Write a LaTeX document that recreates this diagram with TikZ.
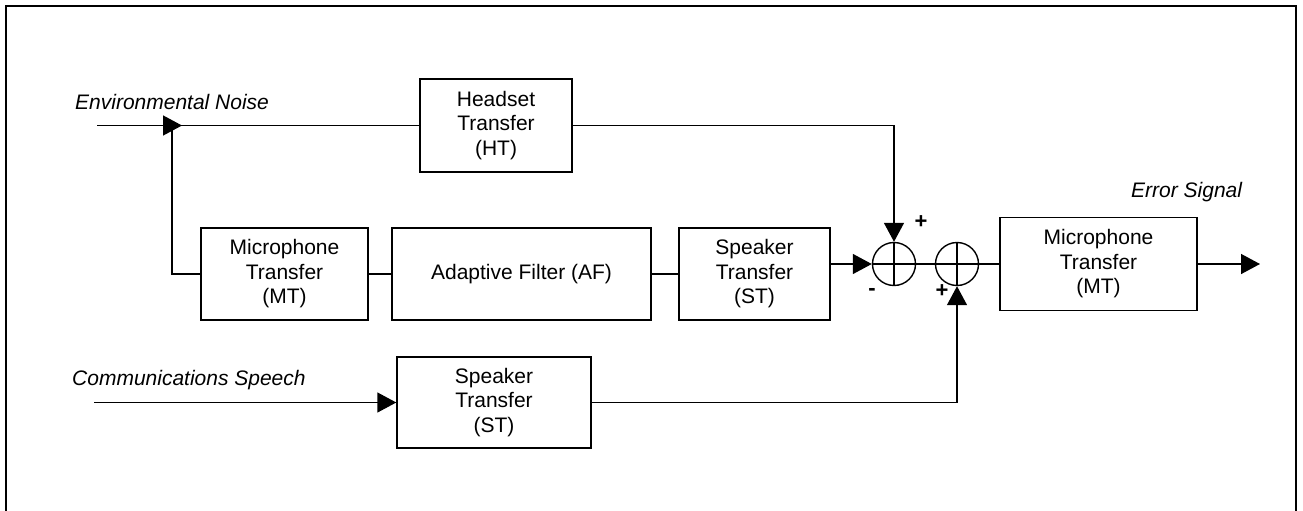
\documentclass[tikz,border=0pt]{standalone}
\usepackage{fontspec}
\setmainfont{Liberation Sans}
\usetikzlibrary{arrows.meta}
\tikzset{
  blk/.style={draw, line width=1.4pt, align=center, inner sep=0pt,
    font=\fontsize{21}{24.5}\selectfont},
  sumc/.style={draw, circle, line width=1.4pt, minimum size=43pt, inner sep=0pt},
  wire/.style={line width=1.4pt},
  arr/.style={wire, -{Triangle[length=19pt,width=20pt]}},
  lbl/.style={font=\fontsize{21}{24}\selectfont\itshape, inner sep=0pt},
  sgn/.style={font=\fontsize{22}{24}\selectfont\bfseries, inner sep=0pt}
}
\begin{document}
\begin{tikzpicture}[x=1pt,y=-1pt]
\useasboundingbox (0,0) rectangle (1303,511);
\draw[line width=1.8pt] (6,515) -- (6,6) -- (1296,6) -- (1296,515);

% blocks
\node[blk, minimum width=152pt, minimum height=93pt] (ht) at (496,125.5) {Headset\\Transfer\\(HT)};
\node[blk, minimum width=167pt, minimum height=92pt] (mt1) at (284.5,274) {Microphone\\Transfer\\(MT)};
\node[blk, minimum width=259pt, minimum height=92pt] (af) at (521.5,274) {Adaptive Filter (AF)};
\node[blk, minimum width=151pt, minimum height=92pt] (st1) at (754.5,274) {Speaker\\Transfer\\(ST)};
\node[blk, minimum width=197pt, minimum height=93pt] (mt2) at (1098.5,264) {Microphone\\Transfer\\(MT)};
\node[blk, minimum width=194pt, minimum height=91pt] (st2) at (494,402.5) {Speaker\\Transfer\\(ST)};

% summing junctions
\node[sumc] (s1) at (894,264) {};
\node[sumc] (s2) at (957,264) {};
\draw[wire] (s1.north) -- (s1.south) (s1.west) -- (s1.east);
\draw[wire] (s2.north) -- (s2.south) (s2.west) -- (s2.east);

% labels
\node[lbl, anchor=west] (envl) at (75,102) {Environmental Noise};
\node[lbl, anchor=west] (coml) at (72,380) {Communications Speech};
\node[lbl, anchor=west] (errl) at (1131,192) {Error Signal};
\node[sgn] (p1) at (921,222) {+};
\node[sgn] (m1) at (872,292) {-};
\node[sgn] (p2) at (942,291) {+};

% coordinates
\coordinate (nin) at (97,125.5);
\coordinate (ntip) at (182,125.5);
\coordinate (j) at (172,125.5);
\coordinate (cin) at (94,402.5);
\coordinate (out) at (1260,264);

% connectors
\draw[wire] (nin) -- (ht.west);
\draw[arr] (nin) -- (ntip);
\draw[wire] (j) |- (mt1.west);
\draw[arr] (ht.east) -| (s1.north);
\draw[wire] (mt1.east) -- (af.west);
\draw[wire] (af.east) -- (st1.west);
\draw[arr] (st1.east |- s1.west) -- (s1.west);
\draw[wire] (s1.east) -- (s2.west);
\draw[wire] (s2.east) -- (mt2.west);
\draw[arr] (mt2.east) -- (out);
\draw[arr] (cin) -- (st2.west);
\draw[arr] (st2.east) -| (s2.south);
\end{tikzpicture}
\end{document}
